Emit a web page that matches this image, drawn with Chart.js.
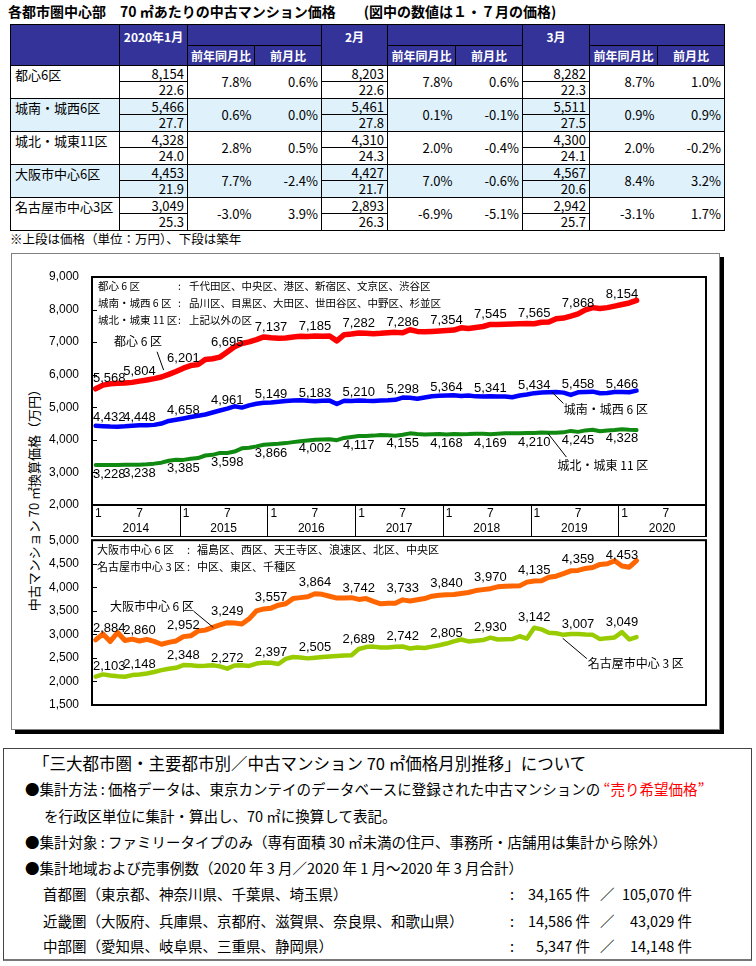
<!DOCTYPE html>
<html lang="ja">
<head>
<meta charset="utf-8">
<title>各都市圏中心部 70㎡あたりの中古マンション価格</title>
<script src="https://cdn.jsdelivr.net/npm/chart.js@4.4.1/dist/chart.umd.min.js"></script>
<style>
html,body{margin:0;padding:0;background:#fff;}
#page{position:relative;width:756px;height:966px;overflow:hidden;font-family:"Noto Sans CJK JP","Noto Sans",sans-serif;color:#000;}
.t{position:absolute;white-space:nowrap;line-height:1;}
#title{left:8px;top:4px;font-size:14px;font-weight:bold;}
#tbl{position:absolute;left:10px;top:24px;width:714px;border-collapse:collapse;table-layout:fixed;border:1px solid #000;}
#tbl th{background:#333399;color:#fff;font-weight:bold;font-size:12px;border:1px solid #000;padding:0;line-height:14px;text-align:center;white-space:nowrap;}
#tbl th.mh{vertical-align:top;padding-top:5px;}
#tbl td{padding:0 3px;font-size:13px;line-height:14px;white-space:nowrap;overflow:hidden;}
#tbl td.nm{vertical-align:top;padding:2px 0 0 4px;border-top:1px solid #000;border-right:1px solid #000;}
#tbl td.pv{text-align:right;border:1px solid #000;vertical-align:middle;}
#tbl td.ag{text-align:right;border-left:1px solid #000;border-right:1px solid #000;vertical-align:middle;}
#tbl td.pc{text-align:right;vertical-align:middle;border-top:1px solid #000;padding-right:3px;}
#tbl tr.s td{background:#dff2fc;}
#foot{left:10px;top:233px;font-size:12.5px;}
#frame{position:absolute;left:11px;top:253px;width:707px;height:475px;border:1px solid #808080;box-shadow:4px 4px 0 0 #000;background:#fff;}
#ytitle{left:33px;top:497px;font-size:13px;transform:translate(-50%,-50%) rotate(-90deg);}
#cA{position:absolute;left:11px;top:253px;}
#cB{position:absolute;left:11px;top:520px;}
#box{position:absolute;left:3px;top:748px;width:747px;height:210px;border:1px solid #444;border-bottom:2px solid #777;}
.bx{font-size:14.5px;}
.red{color:#ff0000;}
</style>
</head>
<body>
<div id="page">
  <div id="title" class="t">各都市圏中心部　70 ㎡あたりの中古マンション価格　　(図中の数値は１・７月の価格)</div>
  <table id="tbl"></table>
  <div id="foot" class="t">※上段は価格（単位：万円）、下段は築年</div>
  <div id="frame"></div>
  <div id="ytitle" class="t">中古マンション 70 ㎡換算価格（万円）</div>
  <canvas id="cA" width="708" height="284"></canvas>
  <canvas id="cB" width="708" height="211"></canvas>
  <div id="box"></div>
  <div class="t" style="left:33px;top:755px;font-size:16.5px;">「三大都市圏・主要都市別／中古マンション 70 ㎡価格月別推移」について</div>
  <div class="t bx" style="left:25px;top:782px;">●集計方法 : 価格データは、東京カンテイのデータベースに登録された中古マンションの <span class="red">“売り希望価格”</span></div>
  <div class="t bx" style="left:44px;top:809px;">を行政区単位に集計・算出し、70 ㎡に換算して表記。</div>
  <div class="t bx" style="left:25px;top:835px;">●集計対象 : ファミリータイプのみ（専有面積 30 ㎡未満の住戸、事務所・店舗用は集計から除外）</div>
  <div class="t bx" style="left:25px;top:861px;">●集計地域および売事例数（2020 年 3 月／2020 年 1 月～2020 年 3 月合計）</div>
  <div id="areas"></div>
</div>
<script>
// ================= DATA =================
// table
const regions = ['都心6区','城南・城西6区','城北・城東11区','大阪市中心6区','名古屋市中心3区'];
const monthHeads = ['2020年1月','2月','3月'];
const subHeads = ['前年同月比','前月比'];
const priceJan = [8154,5466,4328,4453,3049];
const ageJan   = [22.6,27.7,24.0,21.9,25.3];
const yoyJan   = [7.8,0.6,2.8,7.7,-3.0];
const momJan   = [0.6,0.0,0.5,-2.4,3.9];
const priceFeb = [8203,5461,4310,4427,2893];
const ageFeb   = [22.6,27.8,24.3,21.7,26.3];
const yoyFeb   = [7.8,0.1,2.0,7.0,-6.9];
const momFeb   = [0.6,-0.1,-0.4,-0.6,-5.1];
const priceMar = [8282,5511,4300,4567,2942];
const ageMar   = [22.3,27.5,24.1,20.6,25.7];
const yoyMar   = [8.7,0.9,2.0,8.4,-3.1];
const momMar   = [1.0,0.9,-0.2,3.2,1.7];

// chart: monthly values Jan 2014 - Mar 2020
const yearLabels = ['2014','2015','2016','2017','2018','2019','2020'];
const bandMonthLabels = ['1','7'];
const tokyoCenter6 = [
 5568,5680,5720,5735,5745,5765,5804,5840,5880,5930,6010,6100,
 6201,6280,6310,6470,6490,6540,6695,6860,6960,7010,7080,7160,
 7137,7120,7130,7160,7180,7170,7185,7180,7190,7040,7230,7250,
 7282,7270,7260,7270,7290,7300,7286,7380,7330,7320,7330,7340,
 7354,7370,7440,7420,7450,7480,7545,7540,7550,7560,7565,7570,
 7565,7609,7619,7720,7740,7800,7868,7990,8060,8030,8060,8105,
 8154,8203,8282];
const jonanJosai6 = [
 4432,4420,4410,4405,4415,4430,4448,4450,4460,4500,4580,4620,
 4658,4700,4740,4780,4840,4900,4961,5030,4990,5060,5110,5140,
 5149,5170,5190,5210,5215,5200,5183,5200,5205,5100,5200,5190,
 5210,5200,5195,5205,5215,5230,5298,5290,5260,5300,5340,5355,
 5364,5370,5345,5360,5335,5330,5341,5330,5330,5310,5360,5390,
 5434,5456,5462,5470,5450,5380,5458,5470,5480,5430,5440,5466,
 5466,5461,5511];
const johokuJoto11 = [
 3228,3225,3228,3230,3232,3235,3238,3250,3270,3300,3360,3390,
 3385,3420,3440,3520,3540,3600,3598,3640,3740,3760,3800,3850,
 3866,3880,3900,3930,3960,3980,4002,4010,4020,3990,4060,4090,
 4117,4120,4130,4150,4145,4125,4155,4200,4180,4165,4175,4180,
 4168,4180,4175,4180,4190,4185,4169,4190,4205,4200,4205,4210,
 4210,4225,4216,4215,4230,4275,4245,4290,4310,4265,4290,4306,
 4328,4310,4300];
const osakaCenter6 = [
 2884,3010,2850,3040,2870,2900,2860,2895,2850,2790,2830,2860,
 2952,2970,3070,3090,3150,3200,3249,3240,3220,3330,3500,3540,
 3557,3620,3650,3760,3780,3800,3864,3850,3810,3770,3770,3780,
 3742,3760,3700,3650,3660,3660,3733,3710,3736,3760,3810,3830,
 3840,3845,3870,3890,3930,3950,3970,4010,4020,4025,4030,4110,
 4135,4137,4213,4236,4290,4350,4359,4400,4420,4486,4500,4562,
 4453,4427,4567];
const nagoyaCenter3 = [
 2103,2150,2125,2110,2100,2135,2148,2170,2200,2240,2270,2290,
 2348,2345,2330,2335,2345,2320,2272,2340,2345,2330,2380,2400,
 2397,2370,2480,2520,2510,2490,2505,2520,2530,2540,2550,2555,
 2689,2730,2740,2720,2720,2735,2742,2700,2720,2710,2740,2770,
 2805,2850,2890,2850,2865,2880,2930,2890,2895,2900,2960,2910,
 3142,3107,3036,3025,2990,3010,3007,2995,2990,2900,2920,2935,
 3049,2893,2942];

const upperKeyNames = ['都心 6 区','城南・城西 6 区','城北・城東 11 区'];
const upperKeyWards = ['千代田区、中央区、港区、新宿区、文京区、渋谷区','品川区、目黒区、大田区、世田谷区、中野区、杉並区','上記以外の区'];
const lowerKeyNames = ['大阪市中心 6 区','名古屋市中心 3 区'];
const lowerKeyWards = ['福島区、西区、天王寺区、浪速区、北区、中央区','中区、東区、千種区'];

const areaNames = ['首都圏（東京都、神奈川県、千葉県、埼玉県）','近畿圏（大阪府、兵庫県、京都府、滋賀県、奈良県、和歌山県）','中部圏（愛知県、岐阜県、三重県、静岡県）'];
const areaMarch = ['34,165','14,586','5,347'];
const areaTotal = ['105,070','43,029','14,148'];

// ================= TABLE =================
(function(){
  const tbl = document.getElementById('tbl');
  const cw = [109,68,67,67,66,68,67,67,68,67];
  let h = '<colgroup>' + cw.map(w=>'<col style="width:'+w+'px">').join('') + '</colgroup>';
  h += '<tr style="height:21px"><th rowspan="2"></th>';
  monthHeads.forEach(m=>{ h += '<th rowspan="2" class="mh">'+m+'</th><th colspan="2"></th>'; });
  h += '</tr><tr style="height:20px">';
  monthHeads.forEach(()=>{ subHeads.forEach(s=>{ h += '<th>'+s+'</th>'; }); });
  h += '</tr>';
  const pct = v => v.toFixed(1) + '%';
  const months = [[priceJan,ageJan,yoyJan,momJan],[priceFeb,ageFeb,yoyFeb,momFeb],[priceMar,ageMar,yoyMar,momMar]];
  regions.forEach((r,i)=>{
    const cls = (i%2===1)?' class="s"':'';
    h += '<tr'+cls+' style="height:16px"><td rowspan="2" class="nm">'+r+'</td>';
    months.forEach(m=>{
      h += '<td class="pv">'+m[0][i].toLocaleString('en-US')+'</td>';
      h += '<td rowspan="2" class="pc">'+pct(m[2][i])+'</td><td rowspan="2" class="pc">'+pct(m[3][i])+'</td>';
    });
    h += '</tr><tr'+cls+' style="height:17px">';
    months.forEach(m=>{ h += '<td class="ag">'+m[1][i].toFixed(1)+'</td>'; });
    h += '</tr>';
  });
  tbl.innerHTML = h;

  const ar = document.getElementById('areas');
  let a = '';
  const tops = [887, 914, 939];
  areaNames.forEach((n,i)=>{
    a += '<div class="t bx" style="left:43px;top:'+tops[i]+'px;">'+n+'</div>';
    a += '<div class="t bx" style="left:510px;top:'+tops[i]+'px;">:</div>';
    a += '<div class="t bx" style="right:'+(756-590)+'px;top:'+tops[i]+'px;">'+areaMarch[i]+' 件</div>';
    a += '<div class="t bx" style="left:600px;top:'+tops[i]+'px;">／</div>';
    a += '<div class="t bx" style="right:'+(756-692)+'px;top:'+tops[i]+'px;">'+areaTotal[i]+' 件</div>';
  });
  ar.innerHTML = a;
})();

// ================= CHARTS =================
const monthCats = [];
yearLabels.forEach(yr => { for (let m = 1; m <= 12; m++) monthCats.push(yr + '/' + m); });

const NUMFONT = "'Liberation Sans Narrow','Liberation Sans',Arial,sans-serif";
const JPFONT = "'Noto Sans CJK JP',sans-serif";

const panelPlugin = {
  id: 'panel',
  afterDatasetsDraw(chart, args, o) {
    const ctx = chart.ctx, ca = chart.chartArea, x = chart.scales.x, y = chart.scales.y;
    ctx.save();
    ctx.fillStyle = '#000';
    ctx.strokeStyle = '#000';
    // data labels at January / July
    ctx.textAlign = 'center'; ctx.textBaseline = 'middle';
    ctx.font = '13px ' + NUMFONT;
    chart.data.datasets.forEach((d, di) => {
      const dy = o.labelOffsets[di];
      for (let i = 0; i < d.data.length; i += 6) {
        const txt = d.data[i].toLocaleString('en-US');
        const w = ctx.measureText(txt).width;
        const px = Math.max(x.getPixelForValue(i), ca.left + 1 + w / 2);
        ctx.fillText(txt, px, y.getPixelForValue(d.data[i]) + dy);
      }
    });
    // series name notes with leader lines
    ctx.font = '12px ' + JPFONT;
    ctx.lineWidth = 1;
    o.notes.forEach(n => {
      ctx.fillText(n.text, x.getPixelForValue(n.at[0]), y.getPixelForValue(n.at[1]));
      ctx.beginPath();
      ctx.moveTo(x.getPixelForValue(n.from[0]), y.getPixelForValue(n.from[1]));
      ctx.lineTo(x.getPixelForValue(n.to[0]), y.getPixelForValue(n.to[1]));
      ctx.stroke();
    });
    // key text
    ctx.textAlign = 'left';
    ctx.font = o.keyFont + ' ' + JPFONT;
    o.keyNames.forEach((nm, k) => {
      const ty = ca.top + o.keyTop + k * o.keyGap;
      ctx.fillText(nm, ca.left + o.keyX[0], ty);
      ctx.fillText(':', ca.left + o.keyX[1], ty);
      ctx.fillText(o.keyWards[k], ca.left + o.keyX[2], ty);
    });
    // frame
    ctx.lineWidth = 2;
    ctx.strokeRect(ca.left, ca.top, ca.right - ca.left, ca.bottom - ca.top);
    // inward tick marks
    ctx.lineWidth = 1;
    ctx.beginPath();
    y.ticks.forEach(t => {
      const py = Math.round(y.getPixelForValue(t.value)) + 0.5;
      ctx.moveTo(ca.left, py); ctx.lineTo(ca.left + 5, py);
    });
    ctx.stroke();
    // year band
    if (o.band) {
      const bt = ca.bottom, bh = o.band;
      ctx.lineWidth = 2;
      ctx.strokeRect(ca.left, bt, ca.right - ca.left, bh);
      const slot = x.getPixelForValue(1) - x.getPixelForValue(0);
      ctx.lineWidth = 1;
      ctx.font = '12px ' + NUMFONT;
      yearLabels.forEach((yr, k) => {
        const x0 = x.getPixelForValue(12 * k) - slot / 2;
        const x1 = x0 + 12 * slot;
        if (k > 0) {
          ctx.beginPath();
          ctx.moveTo(Math.round(x0) + 0.5, bt); ctx.lineTo(Math.round(x0) + 0.5, bt + bh);
          ctx.stroke();
        }
        ctx.textAlign = 'left';
        ctx.fillText(bandMonthLabels[0], x0 + 3, bt + 9);
        ctx.textAlign = 'center';
        ctx.fillText(bandMonthLabels[1], x.getPixelForValue(12 * k + 6), bt + 9);
        ctx.fillText(yr, (x0 + x1) / 2, bt + 24);
      });
    }
    ctx.restore();
  }
};

function line(label, data, color, width) {
  return { label, data, borderColor: color, backgroundColor: color, borderWidth: width,
    pointRadius: 0, pointHoverRadius: 0, tension: 0, fill: false,
    borderCapStyle: 'round', borderJoinStyle: 'round' };
}

function baseOptions(pad, ymin, ymax, step, panel) {
  return {
    responsive: false, animation: false, devicePixelRatio: 1,
    layout: { padding: pad },
    plugins: { legend: { display: false }, tooltip: { enabled: false }, panel },
    scales: {
      x: { type: 'category', display: false, offset: true },
      y: {
        min: ymin, max: ymax,
        afterFit: s => { s.width = 81; },
        grid: { display: false, drawTicks: false },
        border: { display: false },
        ticks: { stepSize: step, padding: 13, color: '#000', font: { size: 12, family: NUMFONT } }
      }
    }
  };
}

new Chart(document.getElementById('cA'), {
  type: 'line',
  data: {
    labels: monthCats,
    datasets: [
      line('都心6区', tokyoCenter6, '#ff0000', 5.5),
      line('城南・城西6区', jonanJosai6, '#0000ff', 4.5),
      line('城北・城東11区', johokuJoto11, '#108a10', 4)
    ]
  },
  options: baseOptions({ top: 24, right: 13, bottom: 32, left: 0 }, 2000, 9000, 1000, {
    labelOffsets: [-10, -8, 9],
    notes: [
      { text: '都心 6 区', at: [5.8, 7034], from: [8.4, 6705], to: [9.3, 6141] },
      { text: '城南・城西 6 区', at: [69.8, 4940], from: [62.4, 5473], to: [64.0, 5116] },
      { text: '城北・城東 11 区', at: [69.4, 3216], from: [61.9, 4192], to: [64.4, 3472] }
    ],
    keyNames: upperKeyNames, keyWards: upperKeyWards,
    keyFont: '10.5px', keyTop: 9, keyGap: 16.8, keyX: [6, 86, 97],
    band: 32
  }),
  plugins: [panelPlugin]
});

new Chart(document.getElementById('cB'), {
  type: 'line',
  data: {
    labels: monthCats,
    datasets: [
      line('大阪市中心6区', osakaCenter6, '#ff6600', 5),
      line('名古屋市中心3区', nagoyaCenter3, '#99cc00', 4.5)
    ]
  },
  options: baseOptions({ top: 17, right: 13, bottom: 26, left: 0 }, 1500, 5000, 500, {
    labelOffsets: [-11, -10],
    notes: [
      { text: '大阪市中心 6 区', at: [7.7, 3583], from: [13.4, 3493], to: [16.1, 3146] },
      { text: '名古屋市中心 3 区', at: [73.9, 2375], from: [63.9, 2916], to: [67.2, 2485] }
    ],
    keyNames: lowerKeyNames, keyWards: lowerKeyWards,
    keyFont: '11px', keyTop: 10, keyGap: 16.6, keyX: [5, 95, 105],
    band: 0
  }),
  plugins: [panelPlugin]
});
</script>
</body>
</html>
